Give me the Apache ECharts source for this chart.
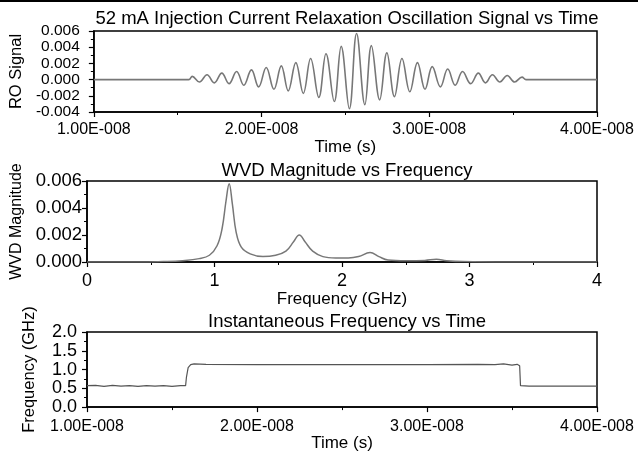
<!DOCTYPE html>
<html>
<head>
<meta charset="utf-8">
<script src="https://cdn.jsdelivr.net/npm/echarts@6/dist/echarts.min.js"></script>
<style>html,body{margin:0;padding:0;background:#fff;}#c{width:638px;height:453px;}</style>
</head>
<body>
<div id="c"></div>
<script>
// ---- Data (time in ns, displayed in seconds) ----
var roTimeNs = [10.0, 15.66, 15.865, 16.294, 16.747, 17.176, 17.629, 18.059, 18.512, 18.941, 19.394, 19.824,
  20.276, 20.735, 21.176, 21.588, 22.041, 22.488, 22.924, 23.412, 23.841, 24.335, 24.747, 25.235,
  25.665, 26.159, 26.547, 27.041, 27.471, 27.924, 28.371, 28.841, 29.294, 29.747, 30.176, 30.665,
  31.100, 31.547, 31.982, 32.471, 32.924, 33.353, 33.765, 34.206, 34.647, 35.088, 35.529, 35.765, 40.0];
var roSignal = [0, 0, 0.0004, -0.0003, 0.0006, -0.0004, 0.0008, -0.0005, 0.0010, -0.0007, 0.0012, -0.0009,
  0.0015, -0.0012, 0.0017, -0.0014, 0.0021, -0.0017, 0.0026, -0.0022, 0.0032, -0.0027, 0.0041, -0.0036,
  0.0057, -0.0031, 0.0042, -0.0025, 0.0033, -0.0021, 0.0026, -0.0015, 0.0021, -0.0012, 0.0016, -0.0009,
  0.0013, -0.0007, 0.0010, -0.0005, 0.0008, -0.0004, 0.0006, -0.0003, 0.0005, -0.0003, 0.0003, 0, 0];

var wvdFreqGHz = [0.00, 0.45, 0.60, 0.75, 0.88, 0.96, 1.02, 1.06, 1.09, 1.115, 1.14, 1.17, 1.21, 1.28, 1.38,
  1.48, 1.56, 1.62, 1.665, 1.71, 1.77, 1.85, 1.95, 2.05, 2.13, 2.22, 2.29, 2.36, 2.50, 2.65, 2.74, 2.82,
  2.95, 3.30, 4.00];
var wvdMag = [0, 0, 0.00003, 0.0001, 0.00025, 0.0005, 0.0012, 0.0025, 0.0045, 0.0058, 0.0043, 0.0022, 0.0011,
  0.0006, 0.0004, 0.0005, 0.0008, 0.0015, 0.0020, 0.0015, 0.0008, 0.0004, 0.0003, 0.0003, 0.0004, 0.0007,
  0.0004, 0.00015, 0.0001, 0.00012, 0.0002, 0.0001, 0.00003, 0, 0];

var ifTimeNs = [10.0, 10.5, 11.0, 11.5, 12.0, 12.5, 13.0, 13.5, 14.0, 14.5, 15.0, 15.5, 15.8, 15.85, 15.95,
  16.1, 16.3, 17.0, 20.0, 25.0, 30.0, 33.0, 34.0, 34.5, 35.0, 35.3, 35.45, 35.5, 36.0, 37.0, 38.0, 39.0, 40.0];
var ifFreqGHz = [0.57, 0.58, 0.55, 0.58, 0.56, 0.57, 0.55, 0.57, 0.56, 0.57, 0.55, 0.57, 0.57, 0.80, 1.05,
  1.13, 1.15, 1.14, 1.13, 1.13, 1.13, 1.14, 1.13, 1.15, 1.12, 1.14, 1.10, 0.57, 0.56, 0.56, 0.56, 0.56, 0.56];

var timeTicksNs = [10, 20, 30, 40];
var freqTicks = [0, 1, 2, 3, 4];

function pairs(xs, ys) { return xs.map(function (x, i) { return [x, ys[i]]; }); }
function sciLabel(ns) {
  var s = (ns * 1e-9).toExponential(2).split('e');
  var e = parseInt(s[1], 10);
  var sign = e < 0 ? '-' : '+';
  var a = String(Math.abs(e));
  while (a.length < 3) a = '0' + a;
  return s[0].toUpperCase() + 'E' + sign + a;
}

var FONT = 'Liberation Sans';
var axisLine = { onZero: false, lineStyle: { color: '#000', width: 1.5 } };
var tick = { show: true, length: 5, lineStyle: { color: '#000', width: 1.2 } };
var minor = { show: true, splitNumber: 2, length: 3, lineStyle: { color: '#000', width: 1 } };
function gridDef(top, h) {
  return { left: 87, right: 41, top: top, height: h, show: true, borderColor: '#000', borderWidth: 1.5, backgroundColor: 'transparent' };
}
function titleDef(text, top) {
  return { text: text, left: 342, top: top, textAlign: 'center',
    textStyle: { fontFamily: FONT, fontSize: 18.5, fontWeight: 'normal', color: '#000' } };
}
var lineColor = '#777';

var option = {
  animation: false,
  backgroundColor: '#fff',
  textStyle: { fontFamily: FONT },
  graphic: [{ type: 'rect', shape: { x: 0, y: 0, width: 638, height: 2 }, style: { fill: '#000' } }],
  title: [
    titleDef('52 mA Injection Current Relaxation Oscillation Signal vs Time', 4),
    titleDef('WVD Magnitude vs Frequency', 156),
    titleDef('Instantaneous Frequency vs Time', 307)
  ],
  grid: [gridDef(31, 81), gridDef(181, 81), gridDef(332, 80)],
  xAxis: [
    { gridIndex: 0, type: 'value', min: timeTicksNs[0], max: timeTicksNs[timeTicksNs.length - 1], interval: 10,
      name: 'Time (s)', nameLocation: 'middle', nameGap: 20,
      nameTextStyle: { fontFamily: FONT, fontSize: 17, color: '#000' },
      axisLine: axisLine, axisTick: tick, minorTick: minor, splitLine: { show: false },
      axisLabel: { fontFamily: FONT, fontSize: 16, color: '#000', margin: 10, formatter: sciLabel } },
    { gridIndex: 1, type: 'value', min: freqTicks[0], max: freqTicks[freqTicks.length - 1], interval: 1,
      name: 'Frequency (GHz)', nameLocation: 'middle', nameGap: 25,
      nameTextStyle: { fontFamily: FONT, fontSize: 17, color: '#000' },
      axisLine: axisLine, axisTick: tick, minorTick: minor, splitLine: { show: false },
      axisLabel: { fontFamily: FONT, fontSize: 18, color: '#000', margin: 10 } },
    { gridIndex: 2, type: 'value', min: timeTicksNs[0], max: timeTicksNs[timeTicksNs.length - 1], interval: 10,
      name: 'Time (s)', nameLocation: 'middle', nameGap: 21,
      nameTextStyle: { fontFamily: FONT, fontSize: 17, color: '#000' },
      axisLine: axisLine, axisTick: tick, minorTick: minor, splitLine: { show: false },
      axisLabel: { fontFamily: FONT, fontSize: 16, color: '#000', margin: 11, formatter: sciLabel } }
  ],
  yAxis: [
    { gridIndex: 0, type: 'value', min: -0.004, max: 0.006, interval: 0.002,
      name: 'RO Signal', nameLocation: 'middle', nameGap: 62, nameRotate: 90,
      nameTextStyle: { fontFamily: FONT, fontSize: 16.5, color: '#000' },
      axisLine: axisLine, axisTick: tick, minorTick: minor, splitLine: { show: false },
      axisLabel: { fontFamily: FONT, fontSize: 15.5, color: '#000', margin: 14, formatter: function (v) { return v.toFixed(3); } } },
    { gridIndex: 1, type: 'value', min: 0, max: 0.006, interval: 0.002,
      name: 'WVD Magnitude', nameLocation: 'middle', nameGap: 59, nameRotate: 90,
      nameTextStyle: { fontFamily: FONT, fontSize: 16, color: '#000' },
      axisLine: axisLine, axisTick: tick, minorTick: minor, splitLine: { show: false },
      axisLabel: { fontFamily: FONT, fontSize: 18.5, color: '#000', margin: 5, formatter: function (v) { return v.toFixed(3); } } },
    { gridIndex: 2, type: 'value', min: 0, max: 2, interval: 0.5,
      name: 'Frequency (GHz)', nameLocation: 'middle', nameGap: 49, nameRotate: 90,
      nameTextStyle: { fontFamily: FONT, fontSize: 16.5, color: '#000' },
      axisLine: axisLine, axisTick: tick, minorTick: minor, splitLine: { show: false },
      axisLabel: { fontFamily: FONT, fontSize: 18, color: '#000', margin: 10, formatter: function (v) { return v.toFixed(1); } } }
  ],
  series: [
    { type: 'line', xAxisIndex: 0, yAxisIndex: 0, data: pairs(roTimeNs, roSignal), smooth: 0.4, showSymbol: false,
      lineStyle: { color: lineColor, width: 1.6 } },
    { type: 'line', xAxisIndex: 1, yAxisIndex: 1, data: pairs(wvdFreqGHz, wvdMag), smooth: 0.4, showSymbol: false,
      lineStyle: { color: lineColor, width: 1.5 } },
    { type: 'line', xAxisIndex: 2, yAxisIndex: 2, data: pairs(ifTimeNs, ifFreqGHz), showSymbol: false,
      lineStyle: { color: '#555', width: 1.2 } }
  ]
};
var chart = echarts.init(document.getElementById('c'), null, { renderer: 'canvas' });
chart.setOption(option);
</script>
</body>
</html>
